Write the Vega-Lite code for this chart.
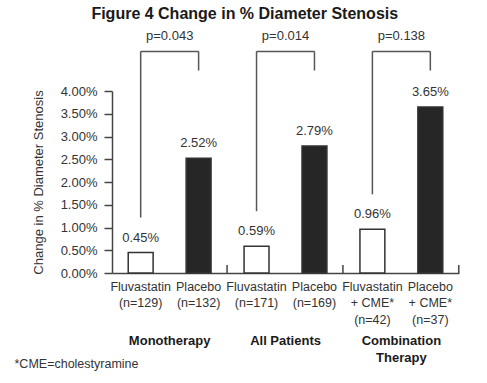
{
  "$schema": "https://vega.github.io/schema/vega-lite/v6.json",
  "autosize": "none",
  "width": 347,
  "height": 182,
  "padding": {"left": 112, "top": 91, "right": 28, "bottom": 110},
  "background": "white",
  "title": {
    "text": "Figure 4 Change in % Diameter Stenosis",
    "font": "Liberation Sans",
    "fontSize": 16,
    "fontWeight": "bold",
    "color": "#1a1a1a",
    "anchor": "middle",
    "frame": "bounds",
    "offset": 8,
    "dx": 8
  },
  "config": {
    "view": {"stroke": null},
    "font": "Liberation Sans",
    "text": {"font": "Liberation Sans", "fontSize": 13, "color": "#333"}
  },
  "datasets": {
    "bars": [
      {"group": "Monotherapy", "treatment": "Fluvastatin", "cat": "Fluvastatin|(n=129)", "value": 0.0045},
      {"group": "Monotherapy", "treatment": "Placebo", "cat": "Placebo|(n=132)", "value": 0.0252},
      {"group": "All Patients", "treatment": "Fluvastatin", "cat": "Fluvastatin|(n=171)", "value": 0.0059},
      {"group": "All Patients", "treatment": "Placebo", "cat": "Placebo|(n=169)", "value": 0.0279},
      {"group": "Combination Therapy", "treatment": "Fluvastatin", "cat": "Fluvastatin|+ CME*|(n=42)", "value": 0.0096},
      {"group": "Combination Therapy", "treatment": "Placebo", "cat": "Placebo|+ CME*|(n=37)", "value": 0.0365}
    ],
    "tests": [
      {"group": "Monotherapy", "a": "Fluvastatin|(n=129)", "b": "Placebo|(n=132)", "p": "p=0.043"},
      {"group": "All Patients", "a": "Fluvastatin|(n=171)", "b": "Placebo|(n=169)", "p": "p=0.014"},
      {"group": "Combination|Therapy", "a": "Fluvastatin|+ CME*|(n=42)", "b": "Placebo|+ CME*|(n=37)", "p": "p=0.138"}
    ]
  },
  "data": {"name": "bars"},
  "resolve": {"axis": {"y": "independent"}},
  "encoding": {
    "x": {
      "field": "cat",
      "type": "nominal",
      "sort": null,
      "scale": {"paddingInner": 0.57, "paddingOuter": 0.28},
      "axis": {
        "title": "*CME=cholestyramine",
        "titleFont": "Liberation Sans",
        "titleFontSize": 12.5,
        "titleFontWeight": "normal",
        "titleColor": "#333",
        "titleAnchor": "start",
        "titleAlign": "left",
        "titleBaseline": "middle",
        "titleX": -98,
        "titleY": 90,
        "labelAngle": 0,
        "labelExpr": "split(datum.label, '|')",
        "labelFont": "Liberation Sans",
        "labelFontSize": 12.5,
        "labelColor": "#333",
        "labelLineHeight": 16.5,
        "labelPadding": 7,
        "labelBaseline": "top",
        "labelOverlap": false,
        "ticks": false,
        "domainColor": "#444",
        "domainWidth": 1.5
      }
    }
  },
  "layer": [
    {
      "mark": {"type": "bar", "strokeWidth": 1.5, "stroke": "#333"},
      "encoding": {
        "y": {
          "field": "value",
          "type": "quantitative",
          "scale": {"domain": [0, 0.04], "nice": false},
          "axis": {
            "title": "Change in % Diameter Stenosis",
            "titleFont": "Liberation Sans",
            "titleFontSize": 13,
            "titleFontWeight": "normal",
            "titleColor": "#333",
            "titlePadding": 15,
            "values": [0, 0.005, 0.01, 0.015, 0.02, 0.025, 0.03, 0.035, 0.04],
            "tickCount": 20,
            "format": ".2%",
            "labelFont": "Liberation Sans",
            "labelFontSize": 13,
            "labelColor": "#333",
            "labelPadding": 7,
            "labelOverlap": false,
            "tickSize": 8,
            "tickColor": "#444",
            "tickWidth": 1.5,
            "domainColor": "#444",
            "domainWidth": 1.5,
            "grid": false
          }
        },
        "fill": {
          "field": "treatment",
          "type": "nominal",
          "scale": {"domain": ["Fluvastatin", "Placebo"], "range": ["#ffffff", "#262626"]},
          "legend": null
        }
      }
    },
    {
      "mark": {"type": "text", "baseline": "bottom", "dy": -8},
      "encoding": {
        "y": {"field": "value", "type": "quantitative", "axis": null},
        "text": {"field": "value", "type": "quantitative", "format": ".2%"}
      }
    },
    {
      "transform": [{"filter": "datum.treatment === 'Fluvastatin'"}],
      "mark": {"type": "rule", "yOffset": -35, "color": "#555", "strokeWidth": 1.5},
      "encoding": {
        "y": {"field": "value", "type": "quantitative", "axis": null},
        "y2": {"datum": 0.0487}
      }
    },
    {
      "transform": [{"filter": "datum.treatment === 'Placebo'"}],
      "mark": {"type": "rule", "color": "#555", "strokeWidth": 1.5},
      "encoding": {
        "y": {"datum": 0.0445, "axis": null},
        "y2": {"datum": 0.0487}
      }
    },
    {
      "data": {"name": "tests"},
      "mark": {"type": "rule", "color": "#555", "strokeWidth": 1.5},
      "encoding": {
        "x": {"field": "a", "type": "nominal"},
        "x2": {"field": "b"},
        "y": {"datum": 0.0487, "axis": null}
      }
    },
    {
      "data": {"name": "tests"},
      "mark": {"type": "text", "dx": 29, "baseline": "alphabetic"},
      "encoding": {
        "x": {"field": "a", "type": "nominal"},
        "y": {"datum": 0.0512, "axis": null},
        "text": {"field": "p"}
      }
    },
    {
      "data": {"name": "tests"},
      "mark": {"type": "rule", "color": "#444", "strokeWidth": 1.5, "xOffset": 16, "y2Offset": -8},
      "encoding": {
        "x": {"field": "b", "type": "nominal", "bandPosition": 1},
        "y": {"datum": 0, "axis": null},
        "y2": {"datum": 0}
      }
    },
    {
      "data": {"name": "tests"},
      "transform": [{"calculate": "split(datum.group, '|')", "as": "glabel"}],
      "mark": {"type": "text", "dx": 29, "dy": 72, "baseline": "alphabetic", "font": "Liberation Sans", "fontWeight": "bold", "fontSize": 13, "lineHeight": 17, "color": "#1a1a1a"},
      "encoding": {
        "x": {"field": "a", "type": "nominal"},
        "y": {"datum": 0, "axis": null},
        "text": {"field": "glabel"}
      }
    }
  ]
}
